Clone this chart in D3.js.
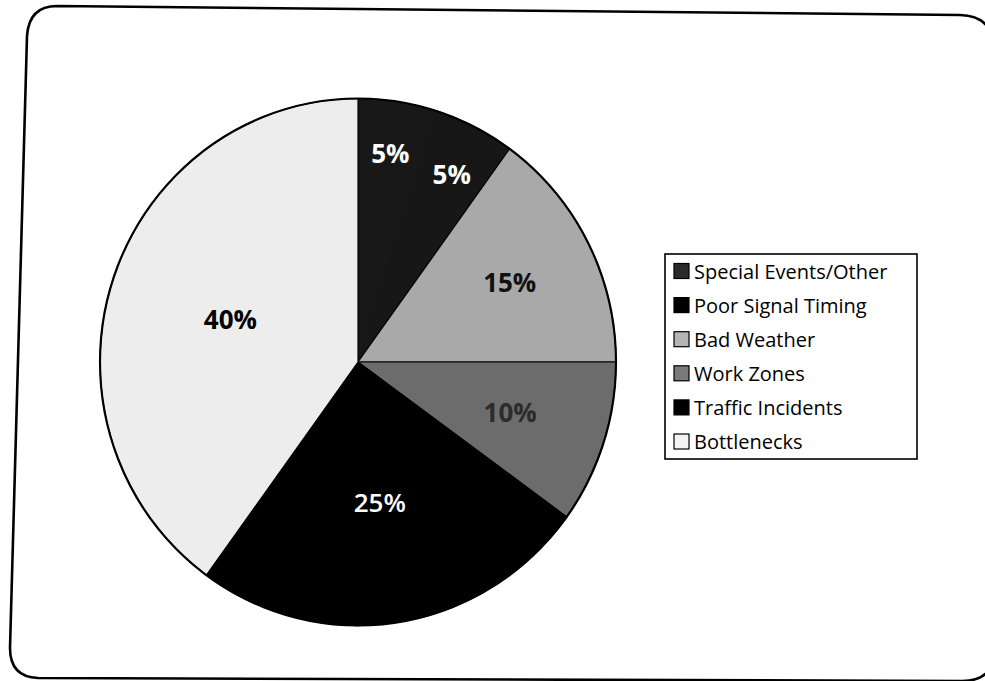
<!DOCTYPE html>
<html>
<head>
<meta charset="utf-8">
<script src="https://cdn.jsdelivr.net/npm/d3@7"></script>
<style>
  html, body { margin: 0; padding: 0; background: #fff; }
  svg { display: block; }
</style>
</head>
<body>
<svg id="chart" width="985" height="681"></svg>
<script>
// ---- data ----
const categories = ["Special Events/Other", "Poor Signal Timing", "Bad Weather", "Work Zones", "Traffic Incidents", "Bottlenecks"];
const values = [5, 5, 15, 10, 25, 40];
const valueLabels = ["5%", "5%", "15%", "10%", "25%", "40%"];

// ---- styles ----
const fills = ["#181818", "#171717", "#a9a9a9", "#6c6c6c", "#000000", "#ededed"];
const swatchFills = ["#2a2a2a", "#000000", "#b4b4b4", "#7a7a7a", "#000000", "#f4f4f4"];
const labelColors = ["#ffffff", "#ffffff", "#111111", "#2b2b2b", "#ffffff", "#000000"];
const labelRadiusFactor = [0.80, 0.80, 0.66, 0.62, 0.54, 0.52];

const svg = d3.select("#chart");

// rounded frame (scanned, slightly skewed)
svg.append("path")
  .attr("d", "M57,6 L960,15 Q994,16 994,50 L995,648 Q995,681 962,681 L38,678 Q10,677 10,648 L27,36 Q29,6 57,6 Z")
  .attr("fill", "none")
  .attr("stroke", "#000")
  .attr("stroke-width", 2.6);

// pie
const cx = 358, cy = 362, rx = 258, ry = 263.5;
const r = ry;
const g = svg.append("g").attr("transform", `translate(${cx},${cy}) scale(${rx / ry},1)`);

const pie = d3.pie().sort(null).value(d => d)(values);
const arc = d3.arc().innerRadius(0).outerRadius(r);

g.selectAll("path.slice")
  .data(pie)
  .join("path")
  .attr("class", "slice")
  .attr("d", arc)
  .attr("fill", (d, i) => fills[i])
  .attr("stroke", (d, i) => i < 2 ? fills[i] : "#000")
  .attr("stroke-width", 1.2);

g.append("circle").attr("r", r).attr("fill", "none").attr("stroke", "#000").attr("stroke-width", 2.2);

const labelG = svg.append("g").attr("transform", `translate(${cx},${cy})`);
labelG.selectAll("text")
  .data(pie)
  .join("text")
  .attr("x", (d, i) => {
    const a = (d.startAngle + d.endAngle) / 2;
    return Math.sin(a) * rx * labelRadiusFactor[i];
  })
  .attr("y", (d, i) => {
    const a = (d.startAngle + d.endAngle) / 2;
    return -Math.cos(a) * ry * labelRadiusFactor[i];
  })
  .attr("dy", "0.36em")
  .attr("text-anchor", "middle")
  .attr("font-family", "'Open Sans', Lato, sans-serif")
  .attr("font-weight", (d, i) => i === 4 ? 600 : 700)
  .attr("font-size", 26)
  .attr("fill", (d, i) => labelColors[i])
  .text((d, i) => valueLabels[i]);

// legend
const legend = svg.append("g");
legend.append("rect")
  .attr("x", 665).attr("y", 254).attr("width", 252).attr("height", 205)
  .attr("fill", "#fff").attr("stroke", "#000").attr("stroke-width", 1.6);

const rowY = d3.scalePoint().domain(categories).range([278.5, 449]);
const items = legend.selectAll("g.item").data(categories).join("g").attr("class", "item");
items.append("rect")
  .attr("x", 674).attr("y", d => rowY(d) - 15)
  .attr("width", 15).attr("height", 15)
  .attr("fill", (d, i) => swatchFills[i])
  .attr("stroke", "#000").attr("stroke-width", 1.2);
items.append("text")
  .attr("x", 694).attr("y", d => rowY(d))
  .attr("font-family", "'Open Sans', Lato, sans-serif")
  .attr("font-size", 20)
  .attr("font-weight", 500)
  .attr("fill", "#000")
  .text(d => d);
</script>
</body>
</html>
